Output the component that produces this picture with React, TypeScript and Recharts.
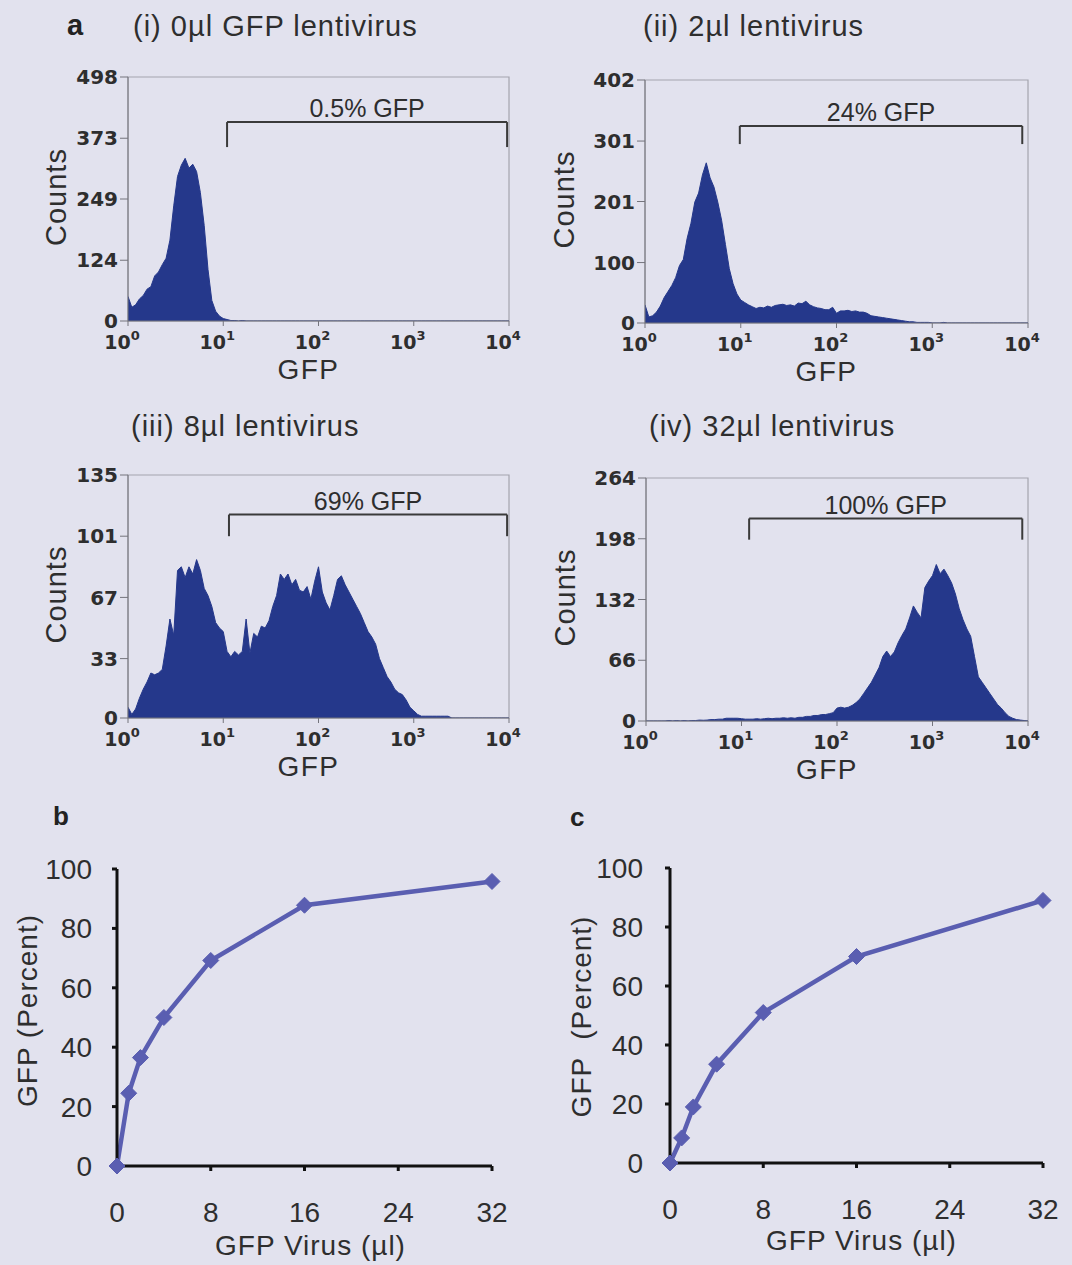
import React from 'react';
import {
  AreaChart, Area, XAxis, YAxis, ReferenceLine, ReferenceArea,
  LineChart, Line, Label,
} from 'recharts';

const SANS = '"Liberation Sans", Arial, Helvetica, sans-serif';
const BOLD_TICK = '"DejaVu Sans", Verdana, sans-serif';
const BG = '#e2e2ee';
const HIST_FILL = '#25388b';
const LINE_COLOR = '#5a5eb1';
const TEXT = '#2e2e2e';

// ---------- flow cytometry histograms (25 bins per log decade, 10^0 .. 10^4) ----------
const BINS_PER_DECADE = 25;
const DECADE_TICKS = [0, 1, 2, 3, 4];

const HIST_0UL = [
  50, 28, 33, 45, 52, 65, 70, 92, 100, 115,
  128, 165, 235, 295, 318, 332, 312, 320, 305, 262,
  195, 105, 42, 20, 10, 5, 3, 1, 1, 0,
  1, 0, 0, 0, 0, 0, 0, 0, 0, 0,
  0, 0, 0, 0, 0, 0, 0, 0, 0, 0,
  0, 0, 0, 0, 0, 0, 0, 0, 0, 0,
  0, 0, 0, 0, 0, 0, 0, 0, 0, 0,
  0, 0, 0, 0, 0, 0, 0, 0, 0, 0,
  0, 0, 0, 0, 0, 0, 0, 0, 0, 0,
  0, 0, 0, 0, 0, 0, 0, 0, 0, 0,
  0,
];
const HIST_2UL = [
  30, 10, 12, 18, 28, 42, 52, 62, 75, 95,
  105, 140, 165, 200, 215, 245, 265, 240, 225, 200,
  170, 130, 90, 65, 48, 38, 34, 30, 27, 24,
  26, 25, 28, 26, 29, 30, 31, 29, 30, 28,
  33, 32, 36, 30, 27, 25, 24, 22, 22, 26,
  16, 20, 20, 21, 19, 20, 18, 18, 16, 12,
  11, 10, 9, 8, 7, 6, 5, 4, 3, 2,
  2, 1, 1, 1, 1, 0, 0, 0, 1, 0,
  0, 0, 0, 0, 0, 0, 0, 0, 0, 0,
  0, 0, 0, 0, 0, 0, 0, 0, 0, 0,
  0,
];
const HIST_8UL = [
  6, 2, 5, 11, 16, 20, 25, 24, 25, 27,
  40, 55, 46, 82, 84, 78, 84, 80, 88, 82,
  72, 68, 62, 53, 50, 48, 37, 34, 37, 35,
  37, 55, 36, 47, 45, 51, 50, 54, 62, 68,
  80, 77, 80, 74, 77, 71, 70, 73, 66, 76,
  84, 70, 64, 60, 68, 77, 79, 74, 70, 66,
  62, 58, 53, 48, 45, 41, 33, 28, 23, 20,
  16, 14, 13, 10, 6, 4, 2, 1, 1, 1,
  1, 1, 1, 1, 1, 0, 0, 0, 0, 0,
  0, 0, 0, 0, 0, 0, 0, 0, 0, 0,
  0,
];
const HIST_32UL = [
  0, 0, 0, 0, 0, 0, 0.5, 0, 0.5, 0,
  0.5, 0, 0.5, 0.5, 1, 0.8, 1, 1.5, 1.5, 2,
  2, 3, 3, 3, 3, 2.5, 2, 2, 2, 2.5,
  2, 2.5, 3, 2.5, 3, 3, 3.5, 3, 3.5, 3,
  4, 4, 5, 5, 6, 6, 7, 7, 8, 9,
  14, 15, 14, 15, 17, 20, 24, 30, 36, 42,
  50, 58, 70, 76, 70, 75, 85, 93, 100, 112,
  125, 118, 112, 145, 152, 158, 170, 160, 165, 158,
  150, 138, 122, 110, 100, 92, 70, 48, 42, 36,
  30, 24, 18, 14, 9, 5, 3, 1.5, 1, 0.5,
  0,
];

const Y_TICKS_0UL = [0, 124, 249, 373, 498];
const Y_TICKS_2UL = [0, 100, 201, 301, 402];
const Y_TICKS_8UL = [0, 33, 67, 101, 135];
const Y_TICKS_32UL = [0, 66, 132, 198, 264];

// gate brackets: [from (log10), to (log10), bar level (counts), foot level (counts)]
const GATE_0UL = [1.04, 3.98, 406, 355];
const GATE_2UL = [0.99, 3.94, 326, 296];
const GATE_8UL = [1.06, 3.98, 113, 101];
const GATE_32UL = [1.08, 3.94, 220, 197];
const GATE_TEXT = ['0.5% GFP', '24% GFP', '69% GFP', '100% GFP'];

const TITLES = ['(i) 0µl GFP lentivirus', '(ii) 2µl lentivirus', '(iii) 8µl lentivirus', '(iv) 32µl lentivirus'];

// ---------- dose response ----------
const VIRUS_UL = [0, 1, 2, 4, 8, 16, 32];
const PCT_B = [0, 24.5, 36.5, 50, 69.2, 87.8, 95.8];
const PCT_C = [0, 8.5, 19, 33.5, 51, 70, 89];
const DOSE_TICKS = [0, 8, 16, 24, 32];
const PCT_TICKS = [0, 20, 40, 60, 80, 100];

const DecadeTick = (props: any) => {
  const { x, y, payload } = props;
  return (
    <text x={x - 6} y={y + 23} textAnchor="middle" fill={TEXT}
      style={{ fontFamily: BOLD_TICK, fontWeight: 'bold', fontSize: 19 }}>
      <tspan>10</tspan>
      <tspan dy={-9} fontSize={13}>{payload.value}</tspan>
    </text>
  );
};

type HistProps = {
  counts: number[]; yTicks: number[]; gate: number[]; gateText: string;
  plotLeft: number; plotTop: number; plotWidth: number; plotHeight: number; countsX: number;
};

const Histogram = ({ counts, yTicks, gate, gateText, plotLeft, plotTop, plotWidth, plotHeight, countsX }: HistProps) => {
  const data = counts.map((c, i) => ({ x: i / BINS_PER_DECADE, c }));
  const yAxisW = 128;
  const top = 40;
  const right = 20;
  const xAxisH = 70;
  const yMax = yTicks[yTicks.length - 1];
  const [g0, g1, gLevel, gFoot] = gate;
  return (
    <div style={{ position: 'absolute', left: plotLeft - yAxisW, top: plotTop - top }}>
      <AreaChart width={plotWidth + yAxisW + right} height={plotHeight + top + xAxisH} data={data}
        margin={{ top, right, bottom: 0, left: 0 }}>
        <ReferenceArea x1={0} x2={4} y1={0} y2={yMax} fill="none" stroke="#a4a4ae" strokeWidth={1.2} ifOverflow="visible" />
        <XAxis type="number" dataKey="x" domain={[0, 4]} ticks={DECADE_TICKS} interval={0}
          height={xAxisH} tickSize={5} tickMargin={0} stroke="#74747c" tick={<DecadeTick />} allowDataOverflow>
          <Label content={(p: any) => {
            const vb = p.viewBox;
            return (
              <text x={vb.x + vb.width / 2 - 10} y={vb.y + 58} textAnchor="middle" fill={TEXT}
                style={{ fontFamily: SANS, fontSize: 28, letterSpacing: 1.5 }}>GFP</text>
            );
          }} />
        </XAxis>
        <YAxis type="number" domain={[0, yMax]} ticks={yTicks} interval={0} width={yAxisW}
          tickSize={8} tickMargin={2} stroke="#74747c" allowDataOverflow
          tick={{ fill: TEXT, fontSize: 20, fontWeight: 'bold', fontFamily: BOLD_TICK }}>
          <Label content={(p: any) => {
            const vb = p.viewBox;
            const cx = vb.x + countsX;
            const cy = vb.y + vb.height / 2 - 2;
            return (
              <text x={cx} y={cy} textAnchor="middle" transform={`rotate(-90 ${cx} ${cy})`} fill={TEXT}
                style={{ fontFamily: SANS, fontSize: 29, letterSpacing: 1 }}>Counts</text>
            );
          }} />
        </YAxis>
        <Area type="linear" dataKey="c" stroke={HIST_FILL} strokeWidth={1} fill={HIST_FILL} fillOpacity={1}
          baseValue={0} dot={false} activeDot={false} isAnimationActive={false} />
        <ReferenceLine segment={[{ x: g0, y: gLevel }, { x: g1, y: gLevel }]} stroke="#3a3a3a" strokeWidth={2}
          label={{ value: gateText, position: 'top', offset: 5, fill: TEXT, fontSize: 25, fontFamily: SANS }} />
        <ReferenceLine segment={[{ x: g0, y: gLevel }, { x: g0, y: gFoot }]} stroke="#3a3a3a" strokeWidth={2} />
        <ReferenceLine segment={[{ x: g1, y: gLevel }, { x: g1, y: gFoot }]} stroke="#3a3a3a" strokeWidth={2} />
      </AreaChart>
    </div>
  );
};

const Diamond = (props: any) => {
  const { cx, cy, index } = props;
  if (cx == null || cy == null) return <g key={`e-${index}`} />;
  const r = 8;
  return (
    <path key={`d-${index}`} d={`M${cx},${cy - r}L${cx + r},${cy}L${cx},${cy + r}L${cx - r},${cy}Z`}
      fill={LINE_COLOR} stroke={LINE_COLOR} strokeWidth={1} />
  );
};

type DoseProps = {
  pct: number[]; left: number; top: number; yAxisW: number; plotWidth: number; plotHeight: number;
  marginTop: number; marginRight: number; xAxisH: number; tickMarginY: number;
  yLabel: string; yLabelX: number; yLabelDy: number; xLabelDx: number; xLabelDy: number;
};

const DoseChart = (p: DoseProps) => {
  const data = VIRUS_UL.map((x, i) => ({ x, y: p.pct[i] }));
  return (
    <div style={{ position: 'absolute', left: p.left, top: p.top }}>
      <LineChart width={p.yAxisW + p.plotWidth + p.marginRight} height={p.marginTop + p.plotHeight + p.xAxisH}
        data={data} margin={{ top: p.marginTop, right: p.marginRight, bottom: 0, left: 0 }}>
        <XAxis type="number" dataKey="x" domain={[0, 32]} ticks={DOSE_TICKS} interval={0} height={p.xAxisH}
          axisLine={{ stroke: '#111', strokeWidth: 3 }} tickLine={{ stroke: '#111', strokeWidth: 3 }}
          tickSize={5} tickMargin={31} tick={{ fill: TEXT, fontSize: 28, fontFamily: SANS }}>
          <Label content={(lp: any) => {
            const vb = lp.viewBox;
            return (
              <text x={vb.x + vb.width / 2 + p.xLabelDx} y={vb.y + p.xLabelDy} textAnchor="middle" fill={TEXT}
                style={{ fontFamily: SANS, fontSize: 28, letterSpacing: 1 }}>GFP Virus (µl)</text>
            );
          }} />
        </XAxis>
        <YAxis type="number" domain={[0, 100]} ticks={PCT_TICKS} interval={0} width={p.yAxisW}
          axisLine={{ stroke: '#111', strokeWidth: 3 }} tickLine={{ stroke: '#111', strokeWidth: 3 }}
          tickSize={5} tickMargin={p.tickMarginY} tick={{ fill: TEXT, fontSize: 28, fontFamily: SANS }}>
          <Label content={(lp: any) => {
            const vb = lp.viewBox;
            const cx = vb.x + p.yLabelX;
            const cy = vb.y + vb.height / 2 + p.yLabelDy;
            return (
              <text x={cx} y={cy} textAnchor="middle" transform={`rotate(-90 ${cx} ${cy})`} fill={TEXT}
                style={{ fontFamily: SANS, fontSize: 28, letterSpacing: 1, whiteSpace: 'pre' }}>{p.yLabel}</text>
            );
          }} />
        </YAxis>
        <Line type="linear" dataKey="y" stroke={LINE_COLOR} strokeWidth={4.5} dot={<Diamond />} activeDot={false}
          isAnimationActive={false} />
      </LineChart>
    </div>
  );
};

export default function App() {
  return (
    <div style={{ position: 'absolute', left: 0, top: 0, width: 1072, height: 1265, background: BG, overflow: 'hidden' }}>
      <Histogram counts={HIST_0UL} yTicks={Y_TICKS_0UL} gate={GATE_0UL} gateText={GATE_TEXT[0]}
        plotLeft={128} plotTop={77} plotWidth={381} plotHeight={244} countsX={66} />
      <Histogram counts={HIST_2UL} yTicks={Y_TICKS_2UL} gate={GATE_2UL} gateText={GATE_TEXT[1]}
        plotLeft={645} plotTop={80} plotWidth={383} plotHeight={243} countsX={57} />
      <Histogram counts={HIST_8UL} yTicks={Y_TICKS_8UL} gate={GATE_8UL} gateText={GATE_TEXT[2]}
        plotLeft={128} plotTop={475} plotWidth={381} plotHeight={243} countsX={66} />
      <Histogram counts={HIST_32UL} yTicks={Y_TICKS_32UL} gate={GATE_32UL} gateText={GATE_TEXT[3]}
        plotLeft={646} plotTop={478} plotWidth={382} plotHeight={243} countsX={57} />

      <DoseChart pct={PCT_B} left={0} top={839} yAxisW={117} plotWidth={375} plotHeight={297}
        marginTop={30} marginRight={40} xAxisH={99} tickMarginY={20}
        yLabel="GFP (Percent)" yLabelX={37} yLabelDy={-7} xLabelDx={6} xLabelDy={89} />
      <DoseChart pct={PCT_C} left={540} top={840} yAxisW={130} plotWidth={373} plotHeight={295}
        marginTop={28} marginRight={25} xAxisH={100} tickMarginY={22}
        yLabel="GFP  (Percent)" yLabelX={51} yLabelDy={1} xLabelDx={5} xLabelDy={87} />

      <svg width={1072} height={1265} style={{ position: 'absolute', left: 0, top: 0, pointerEvents: 'none' }}>
        <text x={67} y={35} fill="#222" style={{ fontFamily: SANS, fontSize: 29, fontWeight: 'bold' }}>a</text>
        <text x={133} y={36} fill={TEXT} style={{ fontFamily: SANS, fontSize: 29, letterSpacing: 1 }}>{TITLES[0]}</text>
        <text x={643} y={36} fill={TEXT} style={{ fontFamily: SANS, fontSize: 29, letterSpacing: 1 }}>{TITLES[1]}</text>
        <text x={131} y={436} fill={TEXT} style={{ fontFamily: SANS, fontSize: 29, letterSpacing: 1 }}>{TITLES[2]}</text>
        <text x={649} y={436} fill={TEXT} style={{ fontFamily: SANS, fontSize: 29, letterSpacing: 1 }}>{TITLES[3]}</text>
        <text x={53} y={825} fill="#222" style={{ fontFamily: SANS, fontSize: 26, fontWeight: 'bold' }}>b</text>
        <text x={570} y={826} fill="#222" style={{ fontFamily: SANS, fontSize: 26, fontWeight: 'bold' }}>c</text>
      </svg>
    </div>
  );
}
